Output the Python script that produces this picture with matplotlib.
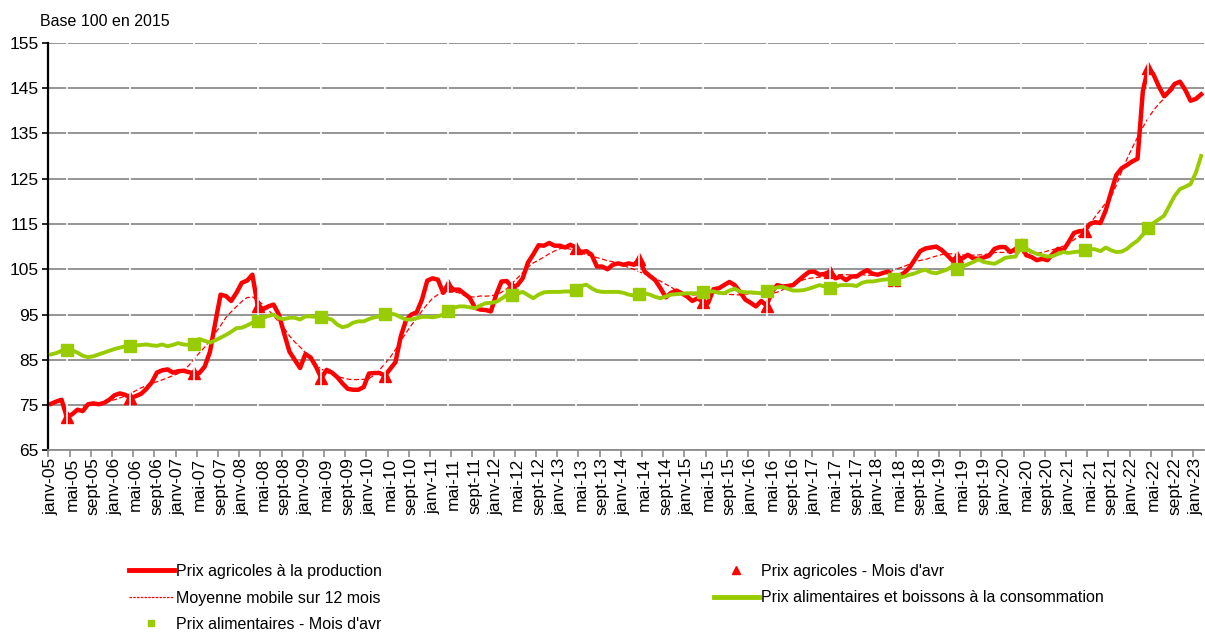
import matplotlib
matplotlib.use('Agg')
import matplotlib.pyplot as plt
from matplotlib import font_manager
from matplotlib.lines import Line2D
import numpy as np
import pandas as pd

# Indices mensuels, janv-05 a fevr-23, base 100 en 2015
prix_agricoles = [
    75.3, 75.8, 76.2, 72.3, 73.0, 74.0, 73.7, 75.2, 75.4, 75.2, 75.5, 76.2,       # 2005
    77.2, 77.6, 77.3, 76.6, 77.0, 77.5, 78.6, 80.0, 82.2, 82.7, 82.9, 82.2,       # 2006
    82.5, 82.6, 82.3, 82.0, 82.1, 83.5, 86.8, 93.2, 99.4, 99.1, 98.0, 99.8,       # 2007
    102.0, 102.5, 103.8, 97.0, 96.2, 96.8, 97.2, 95.0, 90.8, 86.8, 85.0, 83.2,    # 2008
    86.3, 85.5, 83.5, 81.0, 82.8, 82.2, 81.2, 79.8, 78.6, 78.4, 78.4, 79.0,       # 2009
    82.0, 82.1, 82.1, 81.5, 83.0, 84.5, 90.2, 93.8, 95.0, 95.5, 98.3, 102.5,      # 2010
    103.0, 102.7, 99.8, 101.5, 100.5, 100.5, 99.6, 98.7, 96.5, 96.1, 96.0, 95.7,  # 2011
    99.4, 102.3, 102.4, 101.0, 101.5, 103.0, 106.5, 108.3, 110.3, 110.2, 110.8, 110.2,  # 2012
    110.2, 109.8, 110.4, 109.8, 108.8, 109.0, 108.2, 105.6, 105.6, 105.0, 106.0, 106.3,  # 2013
    106.0, 106.3, 106.0, 107.2, 104.5, 103.5, 102.6, 100.8, 98.8, 99.8, 100.3, 99.7,    # 2014
    99.0, 98.0, 98.6, 97.8, 97.6, 100.6, 100.8, 101.5, 102.2, 101.5, 100.0, 98.3,       # 2015
    97.6, 96.8, 98.0, 97.0, 100.0, 101.5, 101.2, 101.3, 101.5, 102.5, 103.5, 104.4,     # 2016
    104.5, 103.8, 104.0, 104.5, 103.0, 103.4, 102.6, 103.4, 103.4, 104.2, 104.8, 104.0, # 2017
    103.8, 104.2, 104.5, 102.6, 103.6, 104.2, 105.4, 107.2, 109.0, 109.6, 109.8, 110.0, # 2018
    109.3, 108.2, 107.0, 107.6, 107.4, 108.2, 107.4, 107.3, 107.6, 108.0, 109.5, 109.9, # 2019
    109.9, 108.8, 109.5, 110.6, 108.1, 107.7, 107.0, 107.3, 107.0, 108.4, 109.5, 109.2, # 2020
    111.0, 113.0, 113.4, 113.5, 115.0, 115.4, 115.2, 118.0, 122.0, 125.8, 127.3, 128.0, # 2021
    128.8, 129.4, 144.3, 149.5, 148.0, 145.4, 143.2, 144.3, 145.9, 146.4, 144.6, 142.2, # 2022
    142.6, 143.6,                                                                         # 2023
]

prix_alimentaires = [
    86.2, 86.5, 87.0, 87.1, 87.1, 86.6, 85.9, 85.6, 85.8, 86.2, 86.6, 87.0,       # 2005
    87.4, 87.7, 88.0, 88.0, 88.2, 88.3, 88.4, 88.2, 88.1, 88.4, 88.0, 88.3,       # 2006
    88.7, 88.4, 88.3, 88.6, 89.6, 89.2, 88.8, 89.3, 89.9, 90.5, 91.2, 92.0,       # 2007
    92.1, 92.6, 93.2, 93.5, 94.3, 94.7, 95.0, 94.2, 94.0, 94.3, 94.3, 93.9,       # 2008
    94.6, 94.6, 94.5, 94.4, 94.2, 93.9, 92.8, 92.2, 92.5, 93.2, 93.5, 93.5,       # 2009
    94.0, 94.4, 94.6, 95.1, 95.2, 95.0, 94.4, 93.9, 93.9, 94.2, 94.5, 94.5,       # 2010
    94.4, 94.6, 95.0, 95.7, 96.5, 96.8, 96.8, 96.6, 96.4, 97.0, 97.5, 97.6,       # 2011
    97.8, 98.5, 99.3, 99.4, 99.6, 100.0, 99.3, 98.6, 99.4, 99.9, 100.0, 100.0,    # 2012
    100.0, 100.1, 100.1, 100.4, 101.3, 101.6, 100.8, 100.2, 100.0, 100.0, 100.0, 100.0,  # 2013
    99.8, 99.4, 99.2, 99.5, 99.7, 99.4, 98.9, 98.6, 99.0, 99.4, 99.5, 99.6,       # 2014
    99.7, 99.7, 99.7, 99.9, 100.1, 100.1, 99.8, 99.7, 100.3, 100.7, 100.1, 99.9,  # 2015
    99.9, 99.8, 99.7, 100.2, 100.5, 101.0, 101.1, 100.7, 100.3, 100.3, 100.4, 100.7,    # 2016
    101.1, 101.5, 101.2, 100.9, 101.2, 101.5, 101.5, 101.5, 101.3, 102.0, 102.3, 102.3, # 2017
    102.5, 102.7, 102.8, 102.9, 103.1, 103.4, 103.8, 104.1, 104.6, 104.9, 104.3, 104.1, # 2018
    104.5, 104.9, 105.6, 105.1, 105.6, 106.1, 106.6, 107.2, 106.6, 106.4, 106.2, 106.8, # 2019
    107.5, 107.7, 107.8, 110.4, 109.6, 108.9, 108.4, 108.1, 107.8, 107.9, 108.4, 108.8, # 2020
    108.6, 108.8, 108.9, 109.2, 109.5, 109.4, 109.0, 109.8, 109.2, 108.8, 108.9, 109.5, # 2021
    110.5, 111.3, 112.6, 114.0, 115.2, 116.0, 116.8, 119.0, 121.2, 122.7, 123.2, 123.8, # 2022
    126.3, 130.0,                                                                         # 2023
]

mois = ['janv', 'mai', 'sept']
annee_debut = 5
tick_labels = ['%s-%02d' % (mois[(m % 12) // 4], annee_debut + m // 12)
               for m in range(0, len(prix_agricoles), 4)]

y_ticks = list(range(65, 156, 10))

installed = {f.name for f in font_manager.fontManager.ttflist}
font = 'Liberation Sans' if 'Liberation Sans' in installed else 'DejaVu Sans'
narrow = 'Liberation Sans Narrow' if 'Liberation Sans Narrow' in installed else font

RED = '#ff0000'
GREEN = '#99cc00'

fig = plt.figure(figsize=(12.05, 6.32), dpi=100)
ax = fig.add_axes([0.0401, 0.2872, 0.9589, 0.6452])

x = np.arange(len(prix_agricoles))
agri = pd.Series(prix_agricoles)
moyenne = agri.rolling(12, center=True).mean()
avril = x[3::12]

ax.plot(x, agri, color=RED, lw=3.2, zorder=2)
ax.plot(x, moyenne, color=RED, lw=0.9, ls=(0, (4, 2)), zorder=2.1)
ax.plot(avril, agri[avril], ls='none', marker='^', ms=8, color=RED, zorder=2.2)
ax.vlines(avril, 65, 155, color='white', lw=1.2, zorder=2.5)
ax.plot(x, prix_alimentaires, color=GREEN, lw=2.8, zorder=3)
ax.plot(avril, np.array(prix_alimentaires)[avril], ls='none', marker='s', ms=8,
        color=GREEN, zorder=3.1)

ax.set_xlim(-0.5, len(prix_agricoles) - 0.5)
ax.set_ylim(65, 155)
ax.set_yticks(y_ticks)
ax.yaxis.grid(True, color='#8c8c8c', lw=1.3)
ax.set_axisbelow(True)

ax.set_xticks(np.arange(0, len(prix_agricoles), 4))
ax.set_xticklabels(tick_labels, rotation=90, fontsize=12.5, family=font)
ax.set_xticks(np.arange(-0.5, len(prix_agricoles), 4), minor=True)
ax.tick_params(axis='x', which='major', length=0, pad=5)
ax.tick_params(axis='x', which='minor', length=5, width=1.2, color='#8c8c8c')
ax.tick_params(axis='y', length=4, width=1.2, pad=3, labelsize=12.5)
for lab in ax.get_yticklabels():
    lab.set_family(font)

for s in ['top', 'right']:
    ax.spines[s].set_visible(False)
ax.spines['left'].set_color('black')
ax.spines['left'].set_linewidth(1.6)
ax.spines['bottom'].set_color('#8c8c8c')
ax.spines['bottom'].set_linewidth(1.3)

fig.text(40 / 1205, 1 - 22 / 632, 'Base 100 en 2015', family=narrow, fontsize=11.5,
         va='center', ha='left')

h_agri = Line2D([], [], color=RED, lw=3.5)
h_moy = Line2D([], [], color=RED, lw=0.9, ls=(0, (2, 1)))
h_alim_avr = Line2D([], [], color=GREEN, ls='none', marker='s', ms=5)
h_agri_avr = Line2D([], [], color=RED, ls='none', marker='^', ms=6)
h_alim = Line2D([], [], color=GREEN, lw=3.5)

leg_kw = dict(frameon=False, prop={'family': narrow, 'size': 11.5},
              handlelength=2.8, handletextpad=0.15, labelspacing=0.72,
              borderpad=0, borderaxespad=0, loc='upper left')
fig.legend([h_agri, h_moy, h_alim_avr],
           ['Prix agricoles à la production', 'Moyenne mobile sur 12 mois',
            "Prix alimentaires - Mois d'avr"],
           bbox_to_anchor=(129 / 1205, 1 - 564 / 632), **leg_kw)
fig.legend([h_agri_avr, h_alim],
           ["Prix agricoles - Mois d'avr",
            'Prix alimentaires et boissons à la consommation'],
           bbox_to_anchor=(714 / 1205, 1 - 564 / 632), **leg_kw)

fig.savefig('out.png', dpi=100)
